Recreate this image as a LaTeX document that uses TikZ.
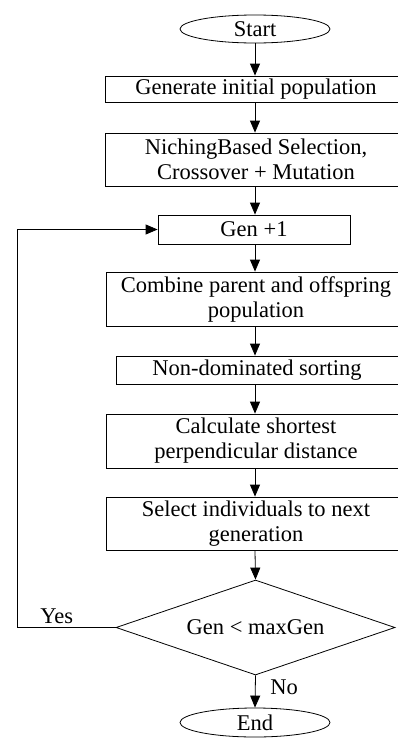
\documentclass[tikz,border=0pt]{standalone}
\usepackage{fontspec}
\setmainfont{Liberation Serif}
\usetikzlibrary{shapes.geometric,arrows.meta}
\begin{document}
\begin{tikzpicture}[x=1pt,y=-1pt,
  every node/.style={font=\fontsize{22.5}{25}\selectfont, inner sep=0pt, line width=0.8pt},
  box/.style={draw, rectangle, align=center},
  term/.style={draw, ellipse, minimum width=150pt, minimum height=28pt},
  arr/.style={line width=0.8pt, -{Triangle[length=12pt,width=10pt]}},
  lbl/.style={font=\fontsize{22.5}{25}\selectfont}]
\useasboundingbox (0,0) rectangle (397,742);
\node[term] (start) at (255,29) {Start};
\node[box, minimum width=302pt, minimum height=26pt] (gen) at (256,89) {Generate initial population};
\node[box, minimum width=302pt, minimum height=53pt] (nich) at (256,159.5) {NichingBased Selection,\\Crossover + Mutation};
\node[box, minimum width=192pt, minimum height=29pt] (g1) at (254,229.5) {Gen +1};
\node[box, minimum width=300pt, minimum height=54pt] (comb) at (256,299) {Combine parent and offspring\\population};
\node[box, minimum width=282pt, minimum height=28pt] (nond) at (257,370) {Non-dominated sorting};
\node[box, minimum width=300pt, minimum height=54pt] (calc) at (256,441) {Calculate shortest\\perpendicular distance};
\node[box, minimum width=300pt, minimum height=53pt] (sel) at (256,523.5) {Select individuals to next\\generation};
\node[draw, diamond, minimum width=279pt, minimum height=95pt] (dia) at (255.5,627.5) {};
\node (diat) at (255.5,627.5) {Gen < maxGen};
\node[term, minimum height=29pt] (end) at (255,722.5) {End};
\coordinate (loopb) at (17,627.5);
\coordinate (loopt) at (17,229.5);
\node[lbl, anchor=base west] (yes) at (40,623) {Yes};
\node[lbl, anchor=base west] (no) at (270,694) {No};
\draw[arr] (start.south) -- (gen.north -| start.south);
\draw[arr] (gen.south -| start.south) -- (nich.north -| start.south);
\draw[arr] (nich.south -| start.south) -- (g1.north -| start.south);
\draw[arr] (g1.south -| start.south) -- (comb.north -| start.south);
\draw[arr] (comb.south -| start.south) -- (nond.north -| start.south);
\draw[arr] (nond.south -| start.south) -- (calc.north -| start.south);
\draw[arr] (calc.south -| start.south) -- (sel.north -| start.south);
\draw[arr] (sel.south -| start.south) -- (dia.north);
\draw[arr] (dia.south) -- (end.north);
\draw[arr] (dia.west) -- (loopb) -- (loopt) -- (g1.west);
\end{tikzpicture}
\end{document}
